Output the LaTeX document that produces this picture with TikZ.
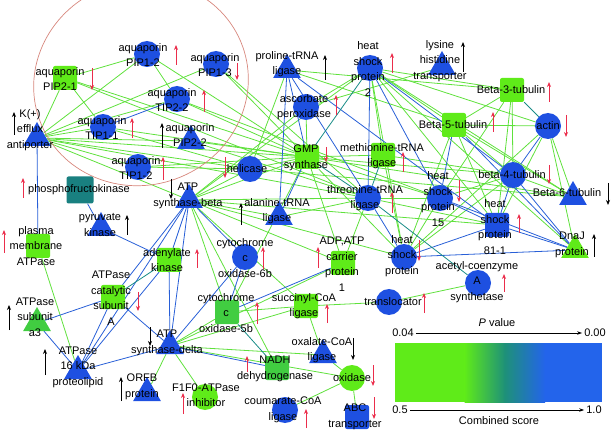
\documentclass[tikz,border=0pt]{standalone}
\usepackage{fontspec}
\setmainfont{Liberation Sans}
\usetikzlibrary{arrows.meta}
\usetikzlibrary{shapes.geometric}
\usetikzlibrary{backgrounds}

\definecolor{nodeblue}{RGB}{30,80,225}
\definecolor{nodegreen}{RGB}{95,235,25}
\definecolor{darkgreen}{RGB}{65,205,65}
\definecolor{pfkteal}{RGB}{25,128,128}
\definecolor{edgegreen}{RGB}{95,225,60}
\definecolor{edgeblue}{RGB}{40,95,215}
\definecolor{edgeteal}{RGB}{25,140,135}
\definecolor{arrred}{RGB}{235,45,75}
\definecolor{ringred}{RGB}{215,135,125}
\definecolor{legblue}{RGB}{35,100,235}
\definecolor{legteal}{RGB}{30,145,120}

\tikzset{
  bcirc/.style={circle, fill=nodeblue, minimum size=26pt, inner sep=0pt},
  gcirc/.style={circle, fill=nodegreen, minimum size=26pt, inner sep=0pt},
  bsq/.style={rectangle, rounded corners=2pt, fill=nodeblue, minimum size=24pt, inner sep=0pt},
  gsq/.style={rectangle, rounded corners=2pt, fill=nodegreen, minimum size=24pt, inner sep=0pt},
  dsq/.style={rectangle, rounded corners=2pt, fill=darkgreen, minimum size=24pt, inner sep=0pt},
  tsq/.style={rectangle, rounded corners=2pt, fill=pfkteal, minimum size=27pt, inner sep=0pt},
  btri/.style={regular polygon, regular polygon sides=3, fill=nodeblue, minimum size=32pt, inner sep=0pt},
  gtri/.style={regular polygon, regular polygon sides=3, fill=nodegreen, minimum size=32pt, inner sep=0pt},
  dtri/.style={regular polygon, regular polygon sides=3, fill=darkgreen, minimum size=32pt, inner sep=0pt},
  lbl/.style={align=center, inner sep=0pt, font=\fontsize{11}{15.5}\selectfont},
  ge/.style={draw=edgegreen, line width=0.8pt},
  be/.style={draw=edgeblue, line width=0.8pt},
  te/.style={draw=edgeteal, line width=0.8pt},
  redarr/.style={arrred, line width=1pt, -{Stealth[length=5pt,width=4pt]}},
  blkarr/.style={black, line width=1pt, -{Stealth[length=5pt,width=4pt]}},
  legarr/.style={black, line width=0.7pt, -{Stealth[length=5pt,width=3.5pt]}},
}

\begin{document}
\begin{tikzpicture}[x=1pt,y=-1pt]
  \useasboundingbox (0,0) rectangle (614,433);
  \draw[ringred, line width=0.7pt, rotate around={20:(141,83)}] (141,83) ellipse [x radius=108, y radius=102];

  \node[gsq] (pip21) at (65,78) {};
  \node[bcirc] (pip12) at (147,54) {};
  \node[bcirc] (pip13) at (216,64) {};
  \node[bcirc] (tip22) at (177,99) {};
  \node[bcirc] (tip11) at (103,127) {};
  \node[btri] (pip22) at (191,141) {};
  \node[btri] (kefflux) at (37,138) {};
  \node[bcirc] (tip12) at (138,167) {};
  \node[btri] (prolig) at (287,70) {};
  \node[bcirc] (hsp2) at (370,68) {};
  \node[bcirc] (ascper) at (306,107) {};
  \node[btri] (lht) at (442,67) {};
  \node[gsq] (btub3) at (512,90) {};
  \node[gsq] (btub5) at (454,125) {};
  \node[bcirc] (actin) at (548,126) {};
  \node[gsq] (gmp) at (307,157) {};
  \node[gsq] (metlig) at (383,155) {};
  \node[bcirc] (helic) at (250,169) {};
  \node[bcirc] (thrlig) at (368,198) {};
  \node[bcirc] (hsp15) at (440,198) {};
  \node[bcirc] (btub4) at (513,175) {};
  \node[btri] (btub6) at (573,197) {};
  \node[bsq] (hsp81) at (497,225) {};
  \node[gtri] (dnaj) at (575,250) {};
  \node[bcirc] (hsp) at (404,257) {};
  \node[bcirc] (acs) at (478,283) {};
  \node[bcirc] (transl) at (389,302) {};
  \node[btri] (atpb) at (189,200) {};
  \node[tsq] (pfk) at (80,190) {};
  \node[btri] (pyrk) at (101,228) {};
  \node[gsq] (pma) at (38,246) {};
  \node[btri] (alalig) at (279,217) {};
  \node[gsq] (adk) at (169,260) {};
  \node[bcirc] (cox6b) at (245,257) {};
  \node[gsq] (aac) at (343,263) {};
  \node[gsq] (atpcat) at (113,297) {};
  \node[dtri] (atpa3) at (37,323) {};
  \node[btri] (atp16) at (78,371) {};
  \node[btri] (atpd) at (170,346) {};
  \node[dsq] (cox5b) at (227,312) {};
  \node[gsq] (succ) at (306,306) {};
  \node[dsq] (nadh) at (277,368) {};
  \node[btri] (oxlig) at (323,355) {};
  \node[gcirc] (oxid) at (352,378) {};
  \node[bsq] (abc) at (357,417) {};
  \node[bcirc] (coum) at (285,410) {};
  \node[btri] (orfb) at (147,393) {};
  \node[gcirc] (f1f0) at (205,397) {};

  \node[lbl] (pip21-l) at (60,79) {aquaporin\\PIP2-1};
  \node[lbl] (pip12-l) at (143,55) {aquaporin\\PIP1-2};
  \node[lbl] (pip13-l) at (215,65) {aquaporin\\PIP1-3};
  \node[lbl] (tip22-l) at (172,100) {aquaporin\\TIP2-2};
  \node[lbl] (tip11-l) at (102,128) {aquaporin\\TIP1-1};
  \node[lbl] (pip22-l) at (190,135) {aquaporin\\PIP2-2};
  \node[lbl] (kefflux-l) at (30,130) {K(+)\\efflux\\antiporter};
  \node[lbl] (tip12-l) at (136,168) {aquaporin\\TIP1-2};
  \node[lbl] (prolig-l) at (287,64) {proline-tRNA\\ligase};
  \node[lbl] (hsp2-l) at (368,69) {heat\\shock\\protein\\2};
  \node[lbl] (ascper-l) at (304,107) {ascorbate\\peroxidase};
  \node[lbl] (lht-l) at (440,61) {lysine\\histidine\\transporter};
  \node[lbl] (btub3-l) at (511,90) {Beta-3-tubulin};
  \node[lbl] (btub5-l) at (453,125) {Beta-5-tubulin};
  \node[lbl] (actin-l) at (548,126) {actin};
  \node[lbl] (gmp-l) at (306,158) {GMP\\synthase};
  \node[lbl] (metlig-l) at (382,156) {methionine-tRNA\\ligase};
  \node[lbl] (helic-l) at (247,169) {helicase};
  \node[lbl] (thrlig-l) at (365,198) {threonine-tRNA\\ligase};
  \node[lbl] (hsp15-l) at (438,199) {heat\\shock\\protein\\15};
  \node[lbl] (btub4-l) at (512,175) {beta-4-tubulin};
  \node[lbl] (btub6-l) at (567,193) {Beta-6-tubulin};
  \node[lbl] (hsp81-l) at (495,227) {heat\\shock\\protein\\81-1};
  \node[lbl] (dnaj-l) at (572,245) {DnaJ\\protein};
  \node[lbl] (hsp-l) at (402,256) {heat\\shock\\protein};
  \node[lbl] (acs-l) at (477,282) {acetyl-coenzyme\\A\\synthetase};
  \node[lbl] (transl-l) at (393,302) {translocator};
  \node[lbl] (atpb-l) at (188,196) {ATP\\synthase-beta};
  \node[lbl] (pfk-l) at (79,190) {phosphofructokinase};
  \node[lbl] (pyrk-l) at (100,225) {pyruvate\\kinase};
  \node[lbl] (pma-l) at (36,246) {plasma\\membrane\\ATPase};
  \node[lbl] (alalig-l) at (277,211) {alanine-tRNA\\ligase};
  \node[lbl] (adk-l) at (167,260) {adenylate\\kinase};
  \node[lbl] (cox6b-l) at (245,258) {cytochrome\\c\\oxidase-6b};
  \node[lbl] (aac-l) at (342,264) {ADP,ATP\\carrier\\protein\\1};
  \node[lbl] (atpcat-l) at (111,298) {ATPase\\catalytic\\subunit\\A};
  \node[lbl] (atpa3-l) at (35,317) {ATPase\\subunit\\a3};
  \node[lbl] (atp16-l) at (78,367) {ATPase\\16 kDa\\proteolipid};
  \node[lbl] (atpd-l) at (167,343) {ATP\\synthase-delta};
  \node[lbl] (cox5b-l) at (226,313) {cytochrome\\c\\oxidase-5b};
  \node[lbl] (succ-l) at (304,306) {succinyl-CoA\\ligase};
  \node[lbl] (nadh-l) at (275,369) {NADH\\dehydrogenase};
  \node[lbl] (oxlig-l) at (322,350) {oxalate-CoA\\ligase};
  \node[lbl] (oxid-l) at (352,378) {oxidase};
  \node[lbl] (abc-l) at (355,417) {ABC\\transporter};
  \node[lbl] (coum-l) at (283,410) {coumarate-CoA\\ligase};
  \node[lbl] (orfb-l) at (142,387) {ORFB\\protein};
  \node[lbl] (f1f0-l) at (206,395) {F1F0-ATPase\\inhibitor};

  \begin{scope}[on background layer]
    \foreach \a/\b in {kefflux/pip21, kefflux/pip12, kefflux/pip13, kefflux/tip22, kefflux/tip11,
      kefflux/pip22, kefflux/tip12, kefflux/gmp, kefflux/helic, kefflux/thrlig, kefflux/atpb,
      pip21/pip12, pip21/tip11, pip21/gmp, pip21/thrlig, pip12/tip22, pip12/gmp,
      pip13/gmp, pip13/thrlig, tip22/gmp, tip22/hsp15, tip11/gmp, tip11/helic,
      pip22/gmp, pip22/thrlig, tip12/gmp, tip12/helic,
      prolig/btub5, prolig/helic, prolig/btub3,
      ascper/hsp2, ascper/gmp, ascper/atpb, ascper/lht,
      hsp2/metlig, hsp2/btub3, hsp2/btub5, hsp2/actin, hsp2/hsp81, hsp2/dnaj, hsp2/btub6, hsp2/hsp, hsp2/atpb,
      btub3/btub5, btub3/btub4, btub3/hsp81, btub3/hsp15,
      btub5/actin, btub5/btub4, btub5/hsp81, btub5/btub6, btub5/hsp,
      actin/hsp81, actin/btub6, actin/hsp, actin/dnaj,
      gmp/metlig, gmp/helic, gmp/atpb, gmp/aac, gmp/hsp, gmp/hsp15, gmp/btub4, gmp/btub6, gmp/cox5b,
      metlig/btub4, metlig/hsp,
      thrlig/hsp15, thrlig/hsp81, thrlig/atpb, thrlig/aac, thrlig/alalig,
      helic/atpb, helic/btub6, hsp15/hsp, hsp15/btub4, btub4/btub6, btub4/hsp,
      hsp81/atpb, hsp/atpb, acs/transl, transl/succ,
      atpb/cox5b, atpb/nadh, atpb/alalig, atpb/aac, atpb/succ, pma/atp16,
      atpd/cox5b, atpd/succ, atpd/orfb, atpd/f1f0, atpd/oxlig, atpd/aac, atpd/oxid,
      cox5b/succ, succ/oxlig, oxid/oxlig, oxid/abc, oxid/coum}
      \draw[ge] (\a) -- (\b);
    \foreach \a/\b in {kefflux/pma, tip11/tip22, prolig/gmp, prolig/thrlig, prolig/alalig, prolig/hsp81,
      hsp2/thrlig, hsp2/hsp15, hsp2/btub4, btub5/hsp15, btub5/dnaj, actin/btub4, gmp/alalig,
      thrlig/hsp, hsp15/hsp81, hsp15/dnaj, btub4/hsp81, btub4/dnaj, hsp81/dnaj, hsp81/hsp, dnaj/hsp,
      atpb/adk, atpb/atpcat, atpb/atp16, atpb/atpd, atpb/cox6b, pfk/pyrk, pyrk/adk,
      adk/atp16, adk/atpd, atpcat/atpa3, atpcat/atp16, atpcat/atpd, atpa3/atp16, atp16/atpd,
      atpd/cox6b, atpd/nadh, cox6b/cox5b, cox5b/aac}
      \draw[be] (\a) -- (\b);
    \foreach \a/\b in {hsp2/gmp, btub3/actin, gmp/thrlig, metlig/thrlig, thrlig/acs, adk/atpcat, cox5b/nadh}
      \draw[te] (\a) -- (\b);
  \end{scope}

  \foreach \x/\p/\q in {92/68/90, 176/65/45, 237/63/80, 204/112/90, 132/138/118, 163/180/157,
    392/73/53, 336/115/95, 549/102/82, 493/132/112, 566/115/137, 326/147/162, 403/172/152,
    225/157/178, 392/213/192, 459/180/202, 549/165/184, 519/233/214, 419/240/261, 504/292/274,
    424/313/293, 23/198/178, 4/253/230, 197/268/249, 263/269/247, 318/268/247, 138/292/311,
    257/324/302, 327/323/304, 247/372/356, 373/365/386, 374/397/419, 306/428/409, 183/414/393}
    \draw[redarr] (\x,\p) -- (\x,\q);
  \foreach \x/\p/\q in {162/148/123, 14/135/112, 325/80/55, 463/72/42, 608/183/205, 594/257/234,
    171/179/199, 127/235/215, 241/225/203, 9/330/305, 45/375/349, 150/327/346, 353/338/360, 121/401/377}
    \draw[blkarr] (\x,\p) -- (\x,\q);

  \fill[nodegreen] (395,343) rectangle (465,402);
  \shade[left color=nodegreen, right color=legteal] (464.5,343) rectangle (505,402);
  \shade[left color=legteal, right color=legblue] (504.5,343) rectangle (545,402);
  \fill[legblue] (544.5,343) rectangle (602,402);

  \node[lbl] (pval) at (497,323) {\textit{P} value};
  \node[lbl, inner sep=2pt] (p004) at (403,333) {0.04};
  \node[lbl, inner sep=2pt] (p000) at (595,333) {0.00};
  \draw[legarr] (p004) -- (p000);
  \node[lbl, inner sep=2pt] (s05) at (400,410) {0.5};
  \node[lbl, inner sep=2pt] (s10) at (594,410) {1.0};
  \draw[legarr] (s05) -- (s10);
  \node[lbl] (cscore) at (499,421) {Combined score};
\end{tikzpicture}
\end{document}
